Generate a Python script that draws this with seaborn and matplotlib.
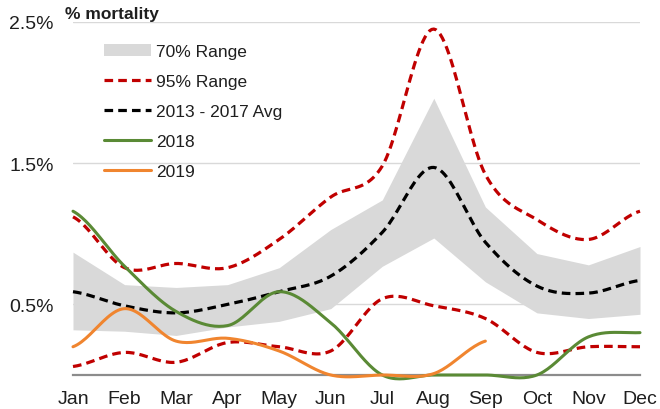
import numpy as np
import pandas as pd
import matplotlib
matplotlib.use("Agg")
import matplotlib.pyplot as plt
import seaborn as sns
from matplotlib.patches import Patch
from matplotlib.lines import Line2D

# ---- data (percent mortality) ----
months = ["Jan", "Feb", "Mar", "Apr", "May", "Jun", "Jul", "Aug", "Sep", "Oct", "Nov", "Dec"]
range70_low = [0.32, 0.31, 0.28, 0.34, 0.38, 0.47, 0.77, 0.97, 0.66, 0.44, 0.40, 0.43]
range70_high = [0.87, 0.64, 0.62, 0.64, 0.76, 1.03, 1.24, 1.96, 1.19, 0.86, 0.78, 0.91]
range95_low = [0.06, 0.16, 0.09, 0.23, 0.20, 0.17, 0.54, 0.49, 0.40, 0.16, 0.20, 0.20]
range95_high = [1.12, 0.76, 0.79, 0.76, 0.96, 1.26, 1.48, 2.45, 1.42, 1.10, 0.96, 1.16]
avg_2013_2017 = [0.59, 0.49, 0.44, 0.50, 0.59, 0.70, 1.01, 1.47, 0.94, 0.63, 0.58, 0.67]
y2018 = [1.16, 0.77, 0.45, 0.35, 0.59, 0.37, 0.00, 0.00, 0.00, 0.00, 0.27, 0.30]
y2019 = [0.20, 0.47, 0.24, 0.26, 0.17, 0.00, 0.00, 0.01, 0.24]
yticks = [0.5, 1.5, 2.5]
ytick_labels = ["0.5%", "1.5%", "2.5%"]


def smooth(vals, n=24):
    """Catmull-Rom display smoothing (like Excel's smoothed line)."""
    v = np.asarray(vals, float)
    p = np.concatenate([[v[0]], v, [v[-1]]])
    xs, ys = [], []
    t = np.linspace(0, 1, n, endpoint=False)
    for i in range(len(v) - 1):
        p0, p1, p2, p3 = p[i], p[i + 1], p[i + 2], p[i + 3]
        y = 0.5 * ((2 * p1) + (-p0 + p2) * t + (2 * p0 - 5 * p1 + 4 * p2 - p3) * t ** 2
                   + (-p0 + 3 * p1 - 3 * p2 + p3) * t ** 3)
        xs.append(i + t)
        ys.append(y)
    xs.append([len(v) - 1])
    ys.append([v[-1]])
    return np.concatenate(xs), np.concatenate(ys)


sns.set_theme(style="white")
plt.rcParams["font.family"] = ["Liberation Sans", "DejaVu Sans"]

fig = plt.figure(figsize=(6.6, 4.1), dpi=100)
ax = fig.add_axes([73 / 660, 1 - 376 / 410, (640 - 73) / 660, (376 - 23) / 410])

x = np.arange(len(months))
ax.fill_between(x, range70_low, range70_high, color="#D9D9D9", linewidth=0, zorder=1)

red = "#C00000"
dash = (2.7, 1.6)
for series in (range95_high, range95_low):
    sx, sy = smooth(series)
    sns.lineplot(x=sx, y=sy, ax=ax, color=red, linewidth=2.3, dashes=False,
                 estimator=None, sort=False, zorder=3, clip_on=False).lines[-1].set_dashes(dash)
sx, sy = smooth(avg_2013_2017)
sns.lineplot(x=sx, y=sy, ax=ax, color="black", linewidth=2.3, estimator=None,
             sort=False, zorder=3, clip_on=False).lines[-1].set_dashes(dash)
sx, sy = smooth(y2018)
sns.lineplot(x=sx, y=sy, ax=ax, color="#5A8A35", linewidth=2.2, estimator=None,
             sort=False, zorder=4, clip_on=False)
sx, sy = smooth(y2019)
sns.lineplot(x=sx, y=sy, ax=ax, color="#F0852F", linewidth=2.2, estimator=None,
             sort=False, zorder=5, clip_on=False)

ax.set_xlim(0, len(months) - 1)
ax.set_ylim(0, 2.5)
ax.set_xticks(x)
ax.set_xticklabels(months)
ax.set_yticks(yticks)
ax.set_yticklabels(ytick_labels)
for yv in yticks:
    ax.axhline(yv, color="#D9D9D9", linewidth=1.0, zorder=0)

for s in ("left", "top", "right"):
    ax.spines[s].set_visible(False)
ax.spines["bottom"].set_color("#8C8C8C")
ax.spines["bottom"].set_linewidth(1.6)
ax.spines["bottom"].set_zorder(2)
ax.tick_params(axis="x", length=5, width=1.4, color="#8C8C8C", pad=6,
               labelsize=14, labelcolor="#1F1F1F", direction="out")
ax.tick_params(axis="y", length=0, pad=14, labelsize=14, labelcolor="#1F1F1F")
ax.set_xlabel("")
ax.set_ylabel("")

fig.text(65 / 660, 1 - 15 / 410, "% mortality", fontsize=12.5, fontweight="bold",
         ha="left", va="center", color="#1F1F1F")

handles = [
    Patch(facecolor="#D9D9D9", edgecolor="none"),
    Line2D([], [], color=red, linewidth=2.3, dashes=dash),
    Line2D([], [], color="black", linewidth=2.3, dashes=dash),
    Line2D([], [], color="#5A8A35", linewidth=2.2),
    Line2D([], [], color="#F0852F", linewidth=2.2),
]
labels = ["70% Range", "95% Range", "2013 - 2017 Avg", "2018", "2019"]
fig.legend(handles, labels, loc="upper left", bbox_to_anchor=(104 / 660, 1 - 45 / 410),
           frameon=False, fontsize=12.5, handlelength=2.7, handletextpad=0.3,
           labelspacing=0.85, borderpad=0, borderaxespad=0, labelcolor="#1F1F1F")

fig.savefig("out.png", dpi=100)
